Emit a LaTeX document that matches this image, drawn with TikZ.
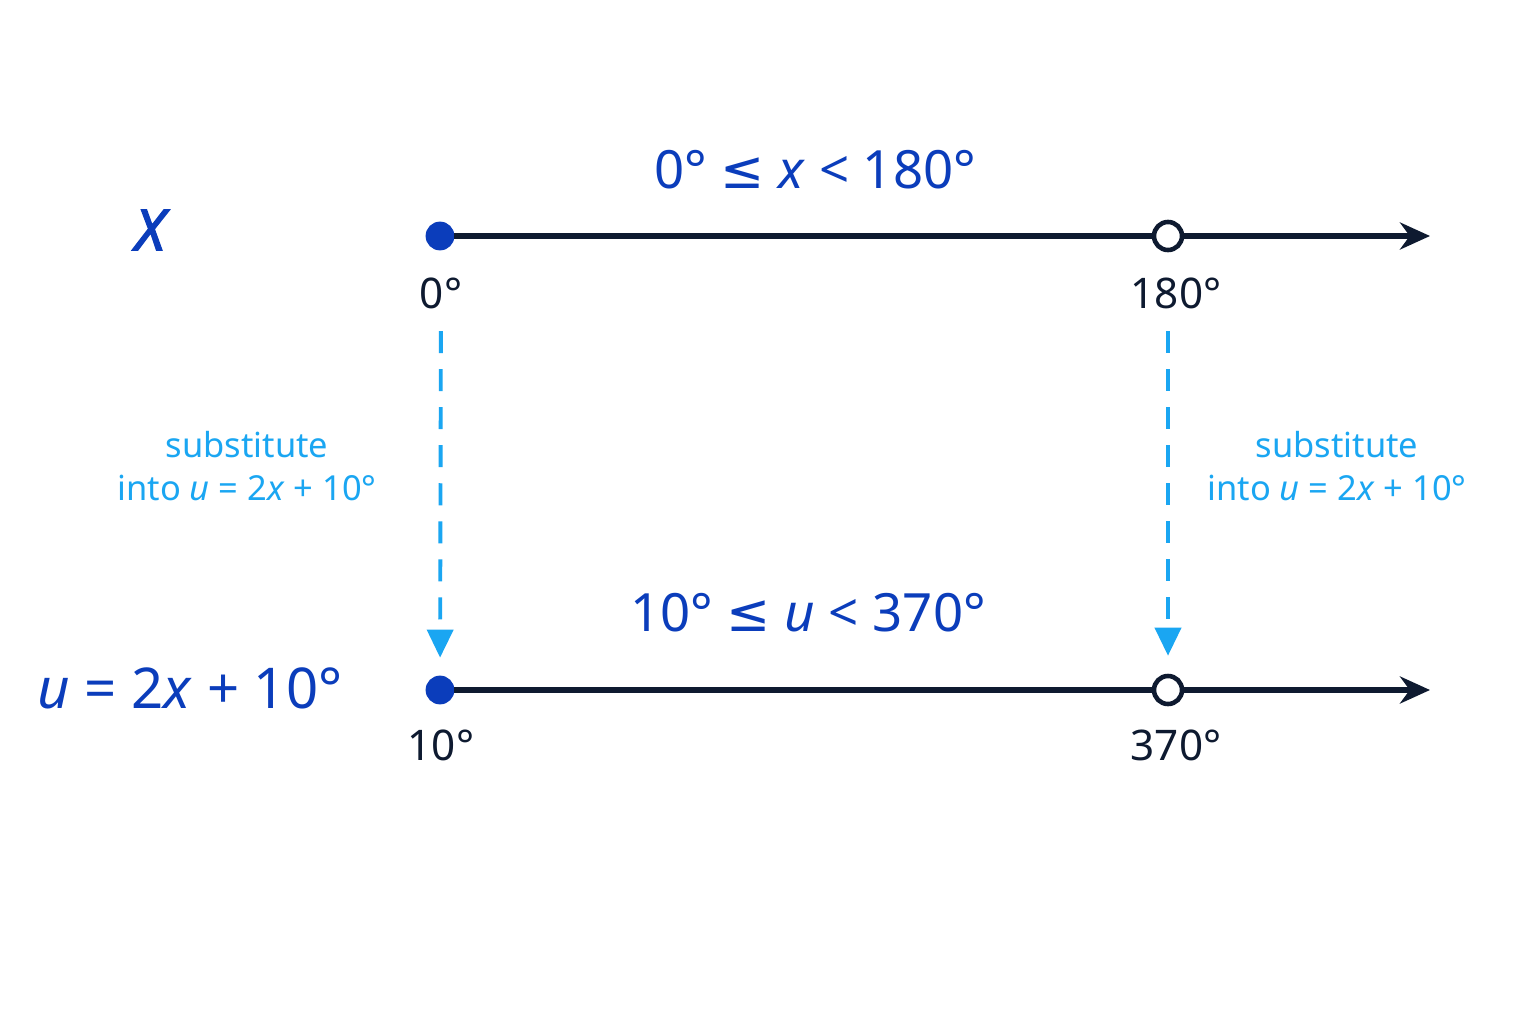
\documentclass[tikz,border=0pt]{standalone}
\usepackage{fontspec}
\setmainfont{Noto Sans}
\newfontfamily\symfont{DejaVu Sans}
\newfontfamily\heavyfont{Noto Sans}[FakeBold=2.5]
\usetikzlibrary{arrows.meta,positioning}
\definecolor{deepblue}{HTML}{0B3DBB}
\definecolor{skyblue}{HTML}{1AA6F2}
\definecolor{inkline}{HTML}{0E1A30}
\newcommand{\lesseq}{{\symfont ≤}}
\begin{document}
\begin{tikzpicture}
        [x=0.01cm,y=-0.01cm,
        every path/.style={line width=1.5pt},
        fulldot/.style={draw=deepblue,fill=deepblue,shape=circle,inner sep=0,minimum size=0.27cm,line width=0.5pt},
        opendot/.style={draw=inkline,fill=white,shape=circle,inner sep=0,minimum size=0.28cm,line width=1.3pt},
        ticklabel/.style={text=inkline,font=\fontsize{12}{14}\selectfont,inner sep=0},
        rangelabel/.style={text=deepblue,font=\fontsize{15}{19}\selectfont,inner sep=0},
        notelabel/.style={text=skyblue,font=\fontsize{9.8}{12.2}\selectfont,align=center,inner sep=0},
        axisline/.style={draw=inkline},
        axisarrow/.style={draw=inkline,-{Stealth[length=0.3cm,width=0.27cm]}},
        substarrow/.style={draw=skyblue,line width=1.1pt,dash pattern=on 0.22cm off 0.16cm,-{Triangle[length=0.28cm,width=0.26cm]}}]

        \useasboundingbox[fill=white] (0,0) rectangle (1536,1024);

        % top number line
        \node[fulldot] (v1) at (440, 236) {};
        \node[opendot] (v2) at (1168, 236) {};
        \coordinate (e1) at (1430, 236);
        \node[ticklabel] (l1) at (441, 293) {0°};
        \node[ticklabel] (l2) at (1176, 293) {180°};
        \node[rangelabel] (r1) at (815, 170) {0° \lesseq{} \textit{x} < 180°};
        \node[rangelabel,font=\fontsize{16}{19}\heavyfont\itshape] (n1) at (150, 230) {X};

        % bottom number line
        \node[fulldot] (v3) at (440, 690) {};
        \node[opendot] (v4) at (1168, 690) {};
        \coordinate (e2) at (1430, 690);
        \node[ticklabel] (l3) at (441, 745) {10°};
        \node[ticklabel] (l4) at (1176, 745) {370°};
        \node[rangelabel] (r2) at (808, 613) {10° \lesseq{} \textit{u} < 370°};
        \node[rangelabel,font=\fontsize{16}{19}\selectfont] (n2) at (190, 688) {\textit{u} = 2\textit{x} + 10°};

        % substitution notes
        \node[notelabel] (s1) at (247, 466) {substitute\\into \textit{u} = 2\textit{x} + 10°};
        \node[notelabel] (s2) at (1337, 466) {substitute\\into \textit{u} = 2\textit{x} + 10°};

        \draw[axisline] (v1) -- (v2);
        \draw[axisarrow] (v2) -- (e1);
        \draw[axisline] (v3) -- (v4);
        \draw[axisarrow] (v4) -- (e2);

        \draw[substarrow,shorten <=0.2cm,shorten >=0.18cm] (l1) -- (v3);
        \draw[substarrow,shorten <=0.2cm,shorten >=0.18cm] (l2.south -| v2) -- (v4);

      \end{tikzpicture}
\end{document}
